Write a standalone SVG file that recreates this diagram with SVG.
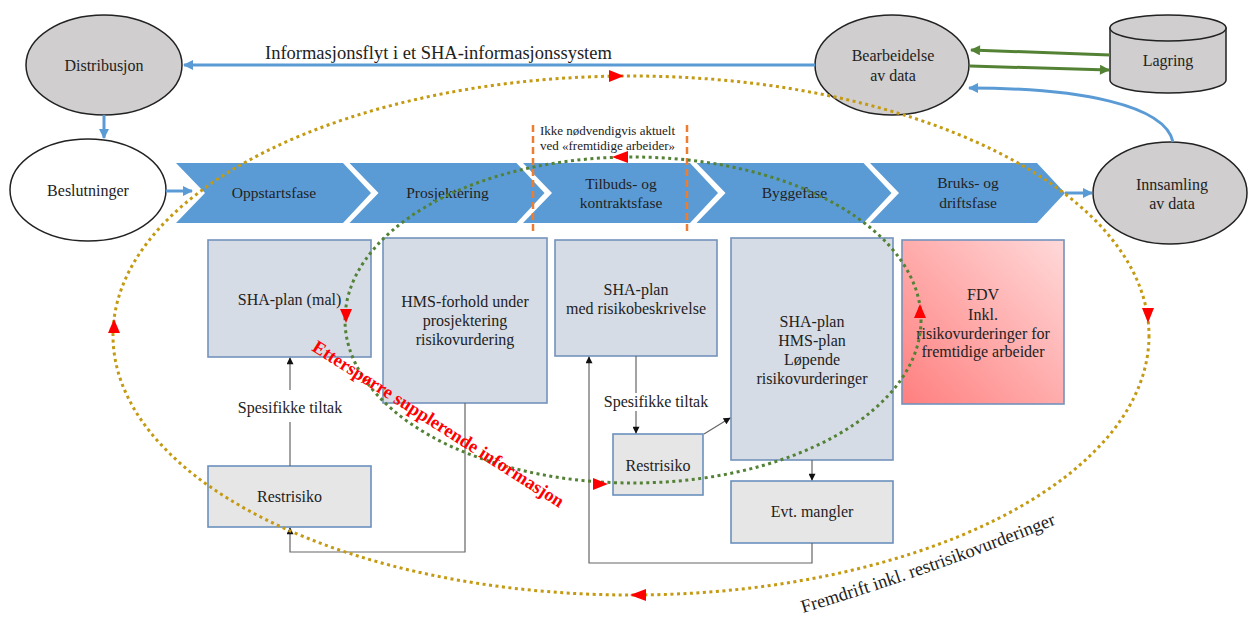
<svg xmlns="http://www.w3.org/2000/svg" width="1251" height="621" viewBox="0 0 1251 621">
<style>
.t{font-family:"Liberation Serif","Times New Roman",serif;fill:#222;font-size:16px;text-anchor:middle}
.ct{font-size:15.5px}
.box{fill:#d6dce5;stroke:#7393bd;stroke-width:1.6}
.gbox{fill:#e7e6e6;stroke:#6b8fbd;stroke-width:1.6}
.node{fill:#d0cece;stroke:#222;stroke-width:1.5}
.wnode{fill:#fff;stroke:#222;stroke-width:1.5}
.chev{fill:#5b9bd5}
.thin{stroke:#666;stroke-width:1.2;fill:none}
.blue{stroke:#5b9bd5;stroke-width:3;fill:none}
.green{stroke:#548235;stroke-width:3;fill:none}
.dash{stroke:#ed7d31;stroke-width:2.5;stroke-dasharray:7 4;fill:none}
.dotg{fill:none;stroke:#c49a12;stroke-width:3;stroke-dasharray:3 3.5}
.dotgr{fill:none;stroke:#538135;stroke-width:3;stroke-dasharray:3 3.5}
.red{fill:#ff0000}
.arc{font-size:18.5px;text-anchor:start}
</style>
<defs>
<marker id="ab" viewBox="0 0 10 10" refX="9" refY="5" markerWidth="11" markerHeight="10" orient="auto" markerUnits="userSpaceOnUse"><path d="M0,0L10,5L0,10z" fill="#5b9bd5"/></marker>
<marker id="ag" viewBox="0 0 10 10" refX="9" refY="5" markerWidth="11" markerHeight="10" orient="auto" markerUnits="userSpaceOnUse"><path d="M0,0L10,5L0,10z" fill="#548235"/></marker>
<marker id="ak" viewBox="0 0 10 10" refX="9" refY="5" markerWidth="8" markerHeight="7" orient="auto" markerUnits="userSpaceOnUse"><path d="M0,0L10,5L0,10z" fill="#111"/></marker>
<linearGradient id="fdv" x1="0" y1="1" x2="1" y2="0">
<stop offset="0" stop-color="#ff7f7f"/>
<stop offset="1" stop-color="#ffd9d9"/>
</linearGradient>
<path id="arcTxt" d="M803,613 Q930,575 1062,522"/>
</defs>

<g id="phases">
<g id="chevron-oppstart"><polygon class="chev" points="176,163 343,163 371,193 343,223 176,223 205,193"/><text class="t ct" x="274" y="198">Oppstartsfase</text></g>
<g id="chevron-prosjektering"><polygon class="chev" points="349.5,163 516.5,163 544.5,193 516.5,223 349.5,223 378.5,193"/><text class="t ct" x="447.5" y="198">Prosjektering</text></g>
<g id="chevron-tilbud"><polygon class="chev" points="523,163 690,163 718,193 690,223 523,223 552,193"/><text class="t ct" x="621" y="189">Tilbuds- og</text><text class="t ct" x="621" y="208">kontraktsfase</text></g>
<g id="chevron-bygg"><polygon class="chev" points="696.5,163 863.5,163 891.5,193 863.5,223 696.5,223 725.5,193"/><text class="t ct" x="794.5" y="198">Byggefase</text></g>
<g id="chevron-bruk"><polygon class="chev" points="870,163 1037,163 1065,193 1037,223 870,223 899,193"/><text class="t ct" x="968" y="188">Bruks- og</text><text class="t ct" x="968" y="208">driftsfase</text></g>
</g>

<g id="distribusjon"><ellipse class="node" cx="104" cy="65" rx="78" ry="50"/><text class="t" x="104" y="71">Distribusjon</text></g>
<g id="beslutninger"><ellipse class="wnode" cx="88" cy="190" rx="78" ry="51"/><text class="t" x="88" y="196">Beslutninger</text></g>
<g id="bearbeidelse"><ellipse class="node" cx="892" cy="65" rx="77" ry="50"/><text class="t" x="893" y="61">Bearbeidelse</text><text class="t" x="893" y="81">av data</text></g>
<g id="lagring"><path class="node" d="M1110,28 L1110,80 A58,13 0 0 0 1226,80 L1226,28 Z"/><ellipse class="node" cx="1168" cy="28" rx="58" ry="13"/><text class="t" x="1168" y="66">Lagring</text></g>
<g id="innsamling"><ellipse class="node" cx="1170" cy="193" rx="77" ry="51"/><text class="t" x="1172" y="190">Innsamling</text><text class="t" x="1172" y="209">av data</text></g>

<g id="sha-plan-mal"><rect class="box" x="208" y="240" width="163" height="117"/><text class="t" x="289.5" y="305">SHA-plan (mal)</text></g>
<g id="hms-forhold"><rect class="box" x="383" y="238" width="164" height="165"/><text class="t" x="465" y="307">HMS-forhold under</text><text class="t" x="465" y="326">prosjektering</text><text class="t" x="465" y="345">risikovurdering</text></g>
<g id="sha-plan-risiko"><rect class="box" x="555" y="240" width="162" height="116"/><text class="t" x="636" y="295">SHA-plan</text><text class="t" x="636" y="314">med risikobeskrivelse</text></g>
<g id="sha-hms-plan"><rect class="box" x="731" y="238" width="162" height="222"/><text class="t" x="812" y="327">SHA-plan</text><text class="t" x="812" y="346">HMS-plan</text><text class="t" x="812" y="365">Løpende</text><text class="t" x="812" y="384">risikovurderinger</text></g>
<g id="fdv-box"><rect x="902" y="240" width="162" height="164" fill="url(#fdv)" stroke="#7393bd" stroke-width="1.6"/><text class="t" x="983" y="300">FDV</text><text class="t" x="983" y="320">Inkl.</text><text class="t" x="983" y="339">risikovurderinger for</text><text class="t" x="983" y="357">fremtidige arbeider</text></g>
<g id="restrisiko-2"><rect class="gbox" x="613" y="434" width="90" height="61"/><text class="t" x="658" y="471">Restrisiko</text></g>
<g id="evt-mangler"><rect class="gbox" x="731" y="481" width="162" height="62"/><text class="t" x="812" y="517">Evt. mangler</text></g>
<g id="restrisiko-1"><rect class="gbox" x="208" y="466" width="163" height="61"/><text class="t" x="289.5" y="502">Restrisiko</text></g>

<g id="connectors">
<path class="blue" d="M815,65 L184,65" marker-end="url(#ab)"/>
<path class="blue" d="M104,115 L104,138" marker-end="url(#ab)"/>
<path class="blue" d="M166,191 L192,191" marker-end="url(#ab)"/>
<path class="blue" d="M1065,193 L1092,193" marker-end="url(#ab)"/>
<path class="blue" d="M1173,142 C1165,105 1080,88 969,88" marker-end="url(#ab)"/>
<path class="green" d="M1110,55 L971,50" marker-end="url(#ag)"/>
<path class="green" d="M970,66 L1109,70" marker-end="url(#ag)"/>
<path class="thin" d="M290,466 L290,422"/>
<path class="thin" d="M290,390 L290,358" marker-end="url(#ak)"/>
<text class="t" x="290" y="413">Spesifikke tiltak</text>
<path class="thin" d="M465,403 L465,552 L290,552 L290,528" marker-end="url(#ak)"/>
<path class="thin" d="M636,356 L636,393"/>
<path class="thin" d="M636,411 L636,433" marker-end="url(#ak)"/>
<text class="t" x="656" y="407">Spesifikke tiltak</text>
<path class="thin" d="M704,434 L730,418" marker-end="url(#ak)"/>
<path class="thin" d="M812,460 L812,480" marker-end="url(#ak)"/>
<path class="thin" d="M812,543 L812,563 L589,563 L589,357" marker-end="url(#ak)"/>
<path class="dash" d="M533,125 L533,232"/>
<path class="dash" d="M687,125 L687,232"/>
<text class="t" x="540" y="135" style="font-size:13px;text-anchor:start">Ikke nødvendigvis aktuelt</text>
<text class="t" x="540" y="150" style="font-size:13px;text-anchor:start">ved «fremtidige arbeider»</text>
<ellipse class="dotg" cx="631" cy="335.5" rx="518" ry="259.5"/>
<ellipse class="dotgr" cx="633" cy="320" rx="288" ry="163"/>
<polygon class="red" points="624,76 609,70 609,82"/>
<polygon class="red" points="1148,323 1142,308 1154,308"/>
<polygon class="red" points="630,595 646,589 646,601"/>
<polygon class="red" points="114,319 108,333 120,333"/>
<polygon class="red" points="612,157 628,151 628,163"/>
<polygon class="red" points="346,323 340,309 352,309"/>
<polygon class="red" points="608,484 593,478 593,490"/>
<polygon class="red" points="920,304 914,318 926,318"/>
<text class="t" x="265" y="59" style="font-size:18.5px;text-anchor:start">Informasjonsflyt i et SHA-informasjonssystem</text>
<text class="t" x="311" y="350" transform="rotate(32.5 311 350)" style="font-size:18.5px;font-weight:bold;fill:#ff0000;text-anchor:start">Etterspørre supplerende informasjon</text>
<text class="t arc"><textPath href="#arcTxt">Fremdrift</textPath></text>
<text class="t arc"><textPath href="#arcTxt" startOffset="75.5">inkl.</textPath></text>
<text class="t arc"><textPath href="#arcTxt" startOffset="113.5">restrisikovurderinger</textPath></text>
</g>
</svg>
